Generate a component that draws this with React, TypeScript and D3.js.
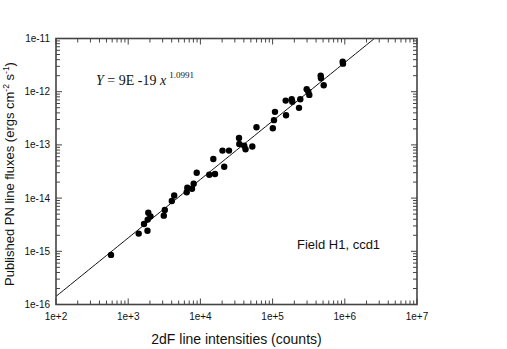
import React from "react";
import * as d3 from "d3";

// 2dF line intensities (counts)
const intensities = [
  578, 1397, 1850, 1655, 1862, 1898, 2036, 3112, 3213, 4018, 4336, 6460, 6590, 7650, 8070,
  8890, 13280, 15920, 15100, 21370, 20230, 24900, 34260, 34570, 40440, 42170, 52350, 59840,
  100700, 104500, 107900, 153400, 151800, 184000, 187500, 232100, 241900, 296500, 312100,
  322300, 463600, 468100, 510400, 935000, 944000,
];

// published PN line fluxes (ergs cm^-2 s^-1)
const fluxes = [
  8.55e-16, 2.15e-15, 2.44e-15, 3.27e-15, 3.94e-15, 5.32e-15, 4.54e-15, 4.68e-15, 5.98e-15,
  8.83e-15, 1.12e-14, 1.29e-14, 1.57e-14, 1.5e-14, 1.86e-14, 3.0e-14, 2.75e-14, 2.84e-14,
  5.42e-14, 3.88e-14, 7.82e-14, 7.82e-14, 1.35e-13, 1.04e-13, 9.62e-14, 8.27e-14, 9.33e-14,
  2.14e-13, 2.05e-13, 2.92e-13, 4.18e-13, 3.62e-13, 6.81e-13, 7.23e-13, 6.44e-13, 4.97e-13,
  7.23e-13, 1.11e-12, 1.0e-12, 8.71e-13, 2.0e-12, 1.79e-12, 1.32e-12, 3.67e-12, 3.37e-12,
];

// fit: Y = 9E-19 x^1.0991
const fitA = 9e-19;
const fitB = 1.0991;

const xTicks = [1e2, 1e3, 1e4, 1e5, 1e6, 1e7];
const xTickLabels = ["1e+2", "1e+3", "1e+4", "1e+5", "1e+6", "1e+7"];
const yTicks = [1e-16, 1e-15, 1e-14, 1e-13, 1e-12, 1e-11];
const yTickLabels = ["1e-16", "1e-15", "1e-14", "1e-13", "1e-12", "1e-11"];

const W = 507;
const H = 349;
const left = 56;
const right = 417;
const top = 38.5;
const bottom = 304.5;

const sans = "'Liberation Sans', Arial, sans-serif";
const serif = "'Liberation Serif', 'Times New Roman', serif";

const App = () => {
  const x = d3.scaleLog().domain([1e2, 1e7]).range([left, right]);
  const y = d3.scaleLog().domain([1e-16, 1e-11]).range([bottom, top]);

  // minor ticks 2..9 in every decade
  const minorX: number[] = [];
  for (let e = 2; e < 7; e++) for (let m = 2; m <= 9; m++) minorX.push(m * Math.pow(10, e));
  const minorY: number[] = [];
  for (let e = -16; e < -11; e++) for (let m = 2; m <= 9; m++) minorY.push(m * Math.pow(10, e));

  const major = 6;
  const minor = 4;

  // fit line clipped to the frame
  const fitX = d3.range(2, 7.001, 0.05).map((e) => Math.pow(10, e));
  const fitLine = d3
    .line<number>()
    .x((d) => x(d))
    .y((d) => y(fitA * Math.pow(d, fitB)));

  const axisColor = "#444";

  return (
    <svg width={W} height={H} style={{ position: "absolute", left: 0, top: 0, background: "#fff" }}>
      <defs>
        <clipPath id="plot">
          <rect x={left} y={top} width={right - left} height={bottom - top} />
        </clipPath>
      </defs>

      {/* ticks */}
      <g stroke={axisColor} strokeWidth={1}>
        {minorX.map((v, i) => (
          <g key={"mx" + i}>
            <line x1={x(v)} x2={x(v)} y1={bottom} y2={bottom - minor} />
            <line x1={x(v)} x2={x(v)} y1={top} y2={top + minor} />
          </g>
        ))}
        {xTicks.map((v, i) => (
          <g key={"Mx" + i}>
            <line x1={x(v)} x2={x(v)} y1={bottom} y2={bottom - major} />
            <line x1={x(v)} x2={x(v)} y1={top} y2={top + major} />
          </g>
        ))}
        {minorY.map((v, i) => (
          <g key={"my" + i}>
            <line x1={left} x2={left + minor} y1={y(v)} y2={y(v)} />
            <line x1={right} x2={right - minor} y1={y(v)} y2={y(v)} />
          </g>
        ))}
        {yTicks.map((v, i) => (
          <g key={"My" + i}>
            <line x1={left} x2={left + major} y1={y(v)} y2={y(v)} />
            <line x1={right} x2={right - major} y1={y(v)} y2={y(v)} />
          </g>
        ))}
      </g>

      <g clipPath="url(#plot)">
        <path d={fitLine(fitX) || ""} fill="none" stroke="#111" strokeWidth={1} />
      </g>

      {intensities.map((v, i) => (
        <circle key={i} cx={x(v)} cy={y(fluxes[i])} r={3.2} fill="#000" />
      ))}

      <rect
        x={left}
        y={top}
        width={right - left}
        height={bottom - top}
        fill="none"
        stroke={axisColor}
        strokeWidth={1.6}
      />

      {/* tick labels */}
      <g fontFamily={sans} fontSize={10} fill="#111">
        {xTicks.map((v, i) => (
          <text key={"xl" + i} x={x(v)} y={320} textAnchor="middle">
            {xTickLabels[i]}
          </text>
        ))}
        {yTicks.map((v, i) => (
          <text key={"yl" + i} x={50} y={y(v) + 3.5} textAnchor="end">
            {yTickLabels[i]}
          </text>
        ))}
      </g>

      {/* axis titles */}
      <text x={(left + right) / 2} y={344} textAnchor="middle" fontFamily={sans} fontSize={14} fill="#111">
        2dF line intensities (counts)
      </text>
      <text
        transform="translate(13.5, 174) rotate(-90)"
        textAnchor="middle"
        fontFamily={sans}
        fontSize={13}
        fill="#111"
      >
        Published PN line fluxes (ergs cm
        <tspan fontSize={8.5} dy={-5}>-2</tspan>
        <tspan dy={5}> s</tspan>
        <tspan fontSize={8.5} dy={-5}>-1</tspan>
        <tspan dy={5}>)</tspan>
      </text>

      {/* equation */}
      <text x={96} y={85} fontFamily={serif} fontSize={14} fill="#111">
        <tspan fontStyle="italic">Y</tspan>
        <tspan> = 9E -19 </tspan>
        <tspan fontStyle="italic">x</tspan>
        <tspan fontSize={9} dy={-7} dx={3}>1.0991</tspan>
      </text>

      <text x={297} y={249} fontFamily={sans} fontSize={13} fill="#111">
        Field H1, ccd1
      </text>
    </svg>
  );
};

export default App;
